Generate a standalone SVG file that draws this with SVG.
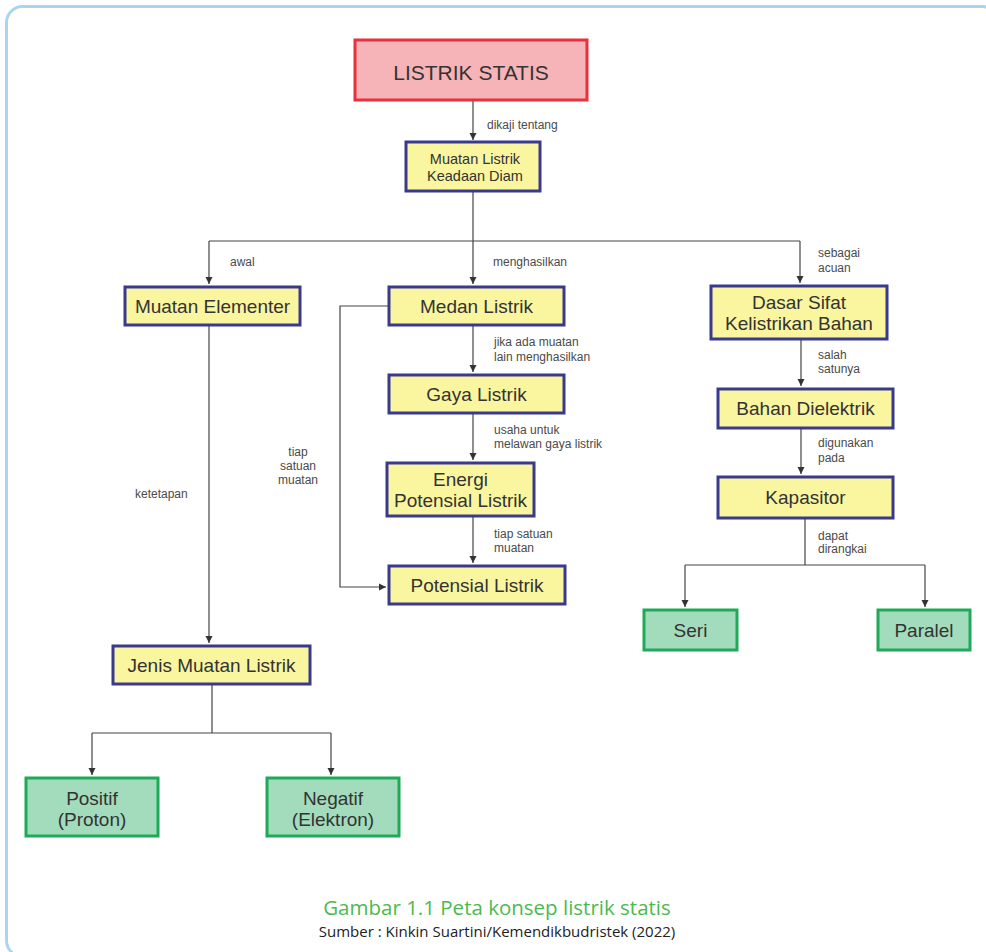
<svg xmlns="http://www.w3.org/2000/svg" width="986" height="952" viewBox="0 0 986 952">
<defs>
<marker id="ah" markerUnits="userSpaceOnUse" markerWidth="8" markerHeight="8" refX="7" refY="4" orient="auto">
<path d="M0,0.5 L7,4 L0,7.5 Z" fill="#333"/>
</marker>
<style>
.red{fill:#f6b4b8;stroke:#e7313c;stroke-width:3}
.yel{fill:#faf69f;stroke:#393a8e;stroke-width:3}
.grn{fill:#a2dcbc;stroke:#1faa57;stroke-width:3}
.t{font-family:"Liberation Sans",Arial,sans-serif;fill:#333;text-anchor:middle}
.lb{font-family:"Liberation Sans",Arial,sans-serif;fill:#4a4a4a;font-size:12px}
.c{fill:none;stroke:#444;stroke-width:1.2}
.ca{fill:none;stroke:#444;stroke-width:1.2;marker-end:url(#ah)}
</style>
</defs>
<rect x="6.5" y="6.5" width="992" height="950" rx="16" fill="#fff" stroke="#acd5ec" stroke-width="3"/>

<g id="connectors">
<line class="ca" x1="473" y1="100" x2="473" y2="140"/>
<line class="c" x1="473" y1="191" x2="473" y2="241"/>
<polyline class="c" points="209,241 800,241"/>
<line class="ca" x1="209" y1="241" x2="209" y2="284"/>
<line class="ca" x1="473" y1="241" x2="473" y2="284"/>
<line class="ca" x1="800" y1="241" x2="800" y2="283"/>
<line class="ca" x1="473" y1="325" x2="473" y2="372"/>
<line class="ca" x1="473" y1="413" x2="473" y2="460"/>
<line class="ca" x1="473" y1="516" x2="473" y2="563"/>
<polyline class="ca" points="389,306 340,306 340,587 386,587"/>
<line class="ca" x1="209" y1="325" x2="209" y2="643"/>
<line class="c" x1="212" y1="684" x2="212" y2="733"/>
<line class="c" x1="92" y1="733" x2="331" y2="733"/>
<line class="ca" x1="92" y1="733" x2="92" y2="775"/>
<line class="ca" x1="331" y1="733" x2="331" y2="775"/>
<line class="ca" x1="801" y1="339" x2="801" y2="386"/>
<line class="ca" x1="801" y1="428" x2="801" y2="474"/>
<line class="c" x1="805" y1="518" x2="805" y2="565"/>
<line class="c" x1="685" y1="565" x2="925" y2="565"/>
<line class="ca" x1="685" y1="565" x2="685" y2="607"/>
<line class="ca" x1="925" y1="565" x2="925" y2="607"/>
</g>

<g id="labels">
<text class="lb" x="487" y="129">dikaji tentang</text>
<text class="lb" x="230" y="266">awal</text>
<text class="lb" x="493" y="266">menghasilkan</text>
<text class="lb" x="818" y="257">sebagai</text>
<text class="lb" x="818" y="272">acuan</text>
<text class="lb" x="494" y="346">jika ada muatan</text>
<text class="lb" x="494" y="361">lain menghasilkan</text>
<text class="lb" x="494" y="434">usaha untuk</text>
<text class="lb" x="494" y="448">melawan gaya listrik</text>
<text class="lb" x="494" y="538">tiap satuan</text>
<text class="lb" x="494" y="552">muatan</text>
<text class="lb" x="298" y="456" text-anchor="middle">tiap</text>
<text class="lb" x="298" y="470" text-anchor="middle">satuan</text>
<text class="lb" x="298" y="484" text-anchor="middle">muatan</text>
<text class="lb" x="135" y="498">ketetapan</text>
<text class="lb" x="818" y="359">salah</text>
<text class="lb" x="818" y="373">satunya</text>
<text class="lb" x="818" y="447">digunakan</text>
<text class="lb" x="818" y="462">pada</text>
<text class="lb" x="818" y="540">dapat</text>
<text class="lb" x="818" y="553">dirangkai</text>
</g>

<g id="listrik-statis">
<rect class="red" x="355" y="40" width="232" height="60"/>
<text class="t" x="471" y="80" font-size="21">LISTRIK STATIS</text>
</g>
<g id="muatan-listrik">
<rect class="yel" x="406" y="142" width="134" height="49"/>
<text class="t" x="475" y="164" font-size="14.5">Muatan Listrik</text>
<text class="t" x="475" y="181" font-size="14.5">Keadaan Diam</text>
</g>
<g id="muatan-elementer">
<rect class="yel" x="125" y="287" width="175" height="38"/>
<text class="t" x="212.5" y="313" font-size="19">Muatan Elementer</text>
</g>
<g id="medan-listrik">
<rect class="yel" x="389" y="287" width="175" height="38"/>
<text class="t" x="476.5" y="313" font-size="19">Medan Listrik</text>
</g>
<g id="dasar-sifat">
<rect class="yel" x="711" y="286" width="176" height="53"/>
<text class="t" x="799" y="309" font-size="19">Dasar Sifat</text>
<text class="t" x="799" y="330" font-size="19">Kelistrikan Bahan</text>
</g>
<g id="gaya-listrik">
<rect class="yel" x="389" y="375" width="175" height="38"/>
<text class="t" x="476.5" y="401" font-size="19">Gaya Listrik</text>
</g>
<g id="energi-potensial">
<rect class="yel" x="387" y="463" width="147" height="53"/>
<text class="t" x="460.5" y="486" font-size="19">Energi</text>
<text class="t" x="460.5" y="507" font-size="19">Potensial Listrik</text>
</g>
<g id="potensial-listrik">
<rect class="yel" x="389" y="566" width="176" height="38"/>
<text class="t" x="477" y="592" font-size="19">Potensial Listrik</text>
</g>
<g id="jenis-muatan">
<rect class="yel" x="113" y="646" width="197" height="38"/>
<text class="t" x="211.5" y="672" font-size="19">Jenis Muatan Listrik</text>
</g>
<g id="positif">
<rect class="grn" x="26" y="778" width="132" height="58"/>
<text class="t" x="92" y="805" font-size="19">Positif</text>
<text class="t" x="92" y="826" font-size="19">(Proton)</text>
</g>
<g id="negatif">
<rect class="grn" x="267" y="778" width="132" height="58"/>
<text class="t" x="333" y="805" font-size="19">Negatif</text>
<text class="t" x="333" y="826" font-size="19">(Elektron)</text>
</g>
<g id="bahan-dielektrik">
<rect class="yel" x="718" y="389" width="175" height="39"/>
<text class="t" x="805.5" y="415" font-size="19">Bahan Dielektrik</text>
</g>
<g id="kapasitor">
<rect class="yel" x="718" y="477" width="175" height="41"/>
<text class="t" x="805.5" y="504" font-size="19">Kapasitor</text>
</g>
<g id="seri">
<rect class="grn" x="644" y="610" width="93" height="40"/>
<text class="t" x="690.5" y="637" font-size="19">Seri</text>
</g>
<g id="paralel">
<rect class="grn" x="878" y="610" width="92" height="40"/>
<text class="t" x="924" y="637" font-size="19">Paralel</text>
</g>

<g id="caption">
<text x="497" y="915" text-anchor="middle" font-family="'Open Sans','Noto Sans',sans-serif" font-size="20.5" fill="#4cba4f">Gambar 1.1 Peta konsep listrik statis</text>
<text x="497" y="937" text-anchor="middle" font-family="'Open Sans','Noto Sans',sans-serif" font-size="15" fill="#222">Sumber : Kinkin Suartini/Kemendikbudristek (2022)</text>
</g>
</svg>
